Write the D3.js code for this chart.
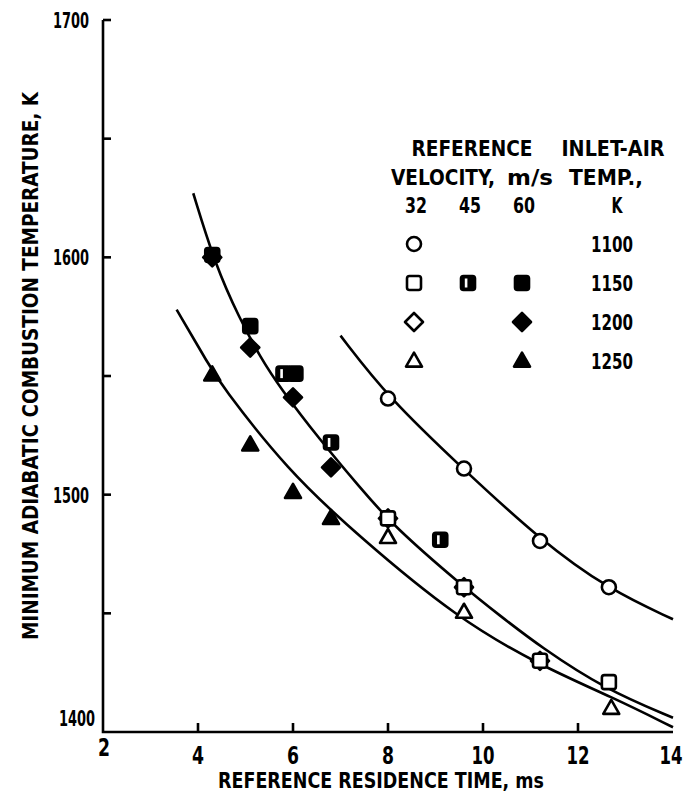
<!DOCTYPE html>
<html>
<head>
<meta charset="utf-8">
<script src="https://cdn.jsdelivr.net/npm/d3@7"></script>
<style>
  html, body { margin: 0; padding: 0; background: #fff; }
  svg { display: block; }
  text { font-family: "DejaVu Sans Condensed", "DejaVu Sans", "Liberation Sans", sans-serif; font-weight: bold; fill: #000; }
</style>
</head>
<body>
<svg id="chart" width="690" height="798"></svg>
<script>
// Axis ranges and ticks
const xDomain = [2, 14];
const yDomain = [1400, 1700];
const xTickLabels = [2, 4, 6, 8, 10, 12, 14];
const yTickLabels = [1400, 1500, 1600, 1700];
const yTicks = [1450, 1500, 1550, 1600, 1650, 1700];
const xTicks = [4, 6, 8, 10, 12];

// Measured points: [residence time ms, temperature K]
const open1100 = [[8.0, 1540.5], [9.6, 1511], [11.2, 1480.5], [12.65, 1461]];          // 32 m/s, 1100 K
const open1150 = [[8.0, 1490], [9.6, 1461], [11.2, 1430], [12.65, 1421]];            // 32 m/s, 1150 K
const half1150 = [[5.8, 1551], [6.8, 1522], [9.1, 1481]];                            // 45 m/s, 1150 K
const solid1150 = [[4.3, 1601], [5.1, 1571], [6.05, 1551]];                          // 60 m/s, 1150 K
const open1200 = [[8.0, 1490], [9.6, 1461], [11.2, 1430]];                           // 32 m/s, 1200 K
const solid1200 = [[4.3, 1600], [5.1, 1562], [6.0, 1541], [6.8, 1511.5]];            // 60 m/s, 1200 K
const open1250 = [[8.0, 1482], [9.6, 1450.5], [12.7, 1410]];                         // 32 m/s, 1250 K
const solid1250 = [[4.3, 1550.5], [5.1, 1521], [6.0, 1501], [6.8, 1490]];            // 60 m/s, 1250 K

// Faired curves
const curve1100 = [[7.0, 1567], [8.0, 1541], [9.6, 1510.5], [11.2, 1481], [12.65, 1460], [14.0, 1447.5]];
const curve1150 = [[3.9, 1627], [4.36, 1597], [4.88, 1574], [5.31, 1558], [5.73, 1545], [6.57, 1523],
                   [7.41, 1503], [8.1, 1487], [9.6, 1461], [10.36, 1449], [11.2, 1436], [12.57, 1418], [14.0, 1406]];
const curve1250 = [[3.55, 1578], [4.25, 1554], [4.46, 1547], [5.87, 1510.5], [7.41, 1482], [9.45, 1448],
                   [11.2, 1428], [12.74, 1414.5], [14.0, 1402]];

// Legend content
const legendVelocities = ["32", "45", "60"];
const legendTemps = ["1100", "1150", "1200", "1250"];

const svg = d3.select("#chart");
const x = d3.scaleLinear().domain(xDomain).range([103, 673]);
const y = d3.scaleLinear().domain(yDomain).range([732, 20]);

const INK = "#000";
const LW = 2.6;

// Axes frame (left and bottom only)
const axisG = svg.append("g").attr("stroke", INK).attr("stroke-width", LW).attr("fill", "none");
axisG.append("path").attr("d", `M${x(2)},${y(1700)}V${y(1400)}H${x(14)}`).attr("stroke-linejoin", "miter");
axisG.selectAll(".yt").data(yTicks).join("line")
  .attr("x1", x(2)).attr("x2", x(2) + 8)
  .attr("y1", d => y(d)).attr("y2", d => y(d));
axisG.selectAll(".xt").data(xTicks).join("line")
  .attr("x1", d => x(d)).attr("x2", d => x(d))
  .attr("y1", y(1400)).attr("y2", y(1400) - 9);

// Tick labels
svg.selectAll(".ylab").data(yTickLabels).join("text")
  .attr("x", d => d === 1400 ? 95 : 89)
  .attr("y", d => d === 1400 ? y(d) - 6 : y(d) + 8)
  .attr("text-anchor", "end")
  .attr("font-size", 21)
  .attr("textLength", 36).attr("lengthAdjust", "spacingAndGlyphs")
  .text(d => d);
svg.selectAll(".xlab").data(xTickLabels).join("text")
  .attr("x", d => d === 2 ? x(d) + 1 : d === 14 ? x(d) - 2 : x(d))
  .attr("y", d => d === 2 ? 756 : 764)
  .attr("text-anchor", "middle")
  .attr("font-size", 24)
  .attr("textLength", d => d >= 10 ? 23 : 12).attr("lengthAdjust", "spacingAndGlyphs")
  .text(d => d);

// Axis titles
svg.append("text")
  .attr("transform", `translate(38,${366}) rotate(-90)`)
  .attr("text-anchor", "middle")
  .attr("font-size", 21)
  .attr("textLength", 548).attr("lengthAdjust", "spacingAndGlyphs")
  .text("MINIMUM ADIABATIC COMBUSTION TEMPERATURE, K");
svg.append("text")
  .attr("x", 381).attr("y", 788)
  .attr("text-anchor", "middle")
  .attr("font-size", 22)
  .attr("textLength", 326).attr("lengthAdjust", "spacingAndGlyphs")
  .text("REFERENCE RESIDENCE TIME, ms");

// Curves
const line = d3.line().x(d => x(d[0])).y(d => y(d[1])).curve(d3.curveBasis);
svg.append("g").attr("fill", "none").attr("stroke", INK).attr("stroke-width", LW)
  .selectAll("path").data([curve1100, curve1150, curve1250]).join("path")
  .attr("d", line);

// Marker drawing helpers
function circleM(g, cx, cy) {
  g.append("circle").attr("cx", cx).attr("cy", cy).attr("r", 7)
    .attr("fill", "#fff").attr("stroke", INK).attr("stroke-width", LW);
}
function squareM(g, cx, cy, style) {
  const s = 14;
  g.append("rect").attr("x", cx - s / 2).attr("y", cy - s / 2).attr("width", s).attr("height", s).attr("rx", 2.5)
    .attr("fill", style === "open" ? "#fff" : INK).attr("stroke", INK).attr("stroke-width", LW);
  if (style === "half") {
    g.append("rect").attr("x", cx - 3.2).attr("y", cy - 4.5).attr("width", 2.6).attr("height", 9).attr("fill", "#fff");
  }
}
function diamondM(g, cx, cy, filled) {
  const r = 9;
  g.append("path").attr("d", `M${cx},${cy - r}L${cx + r},${cy}L${cx},${cy + r}L${cx - r},${cy}Z`)
    .attr("fill", filled ? INK : "#fff").attr("stroke", INK).attr("stroke-width", LW).attr("stroke-linejoin", "round");
}
function triangleM(g, cx, cy, filled) {
  const h = 14, w = 16;
  g.append("path").attr("d", `M${cx},${cy - h * 0.6}L${cx + w / 2},${cy + h * 0.4}L${cx - w / 2},${cy + h * 0.4}Z`)
    .attr("fill", filled ? INK : "#fff").attr("stroke", INK).attr("stroke-width", LW).attr("stroke-linejoin", "round");
}

// Data markers
const mk = svg.append("g");
open1100.forEach(d => circleM(mk, x(d[0]), y(d[1])));
open1200.forEach(d => diamondM(mk, x(d[0]), y(d[1]), false));
open1150.forEach(d => squareM(mk, x(d[0]), y(d[1]), "open"));
open1250.forEach(d => triangleM(mk, x(d[0]), y(d[1]), false));
half1150.forEach(d => squareM(mk, x(d[0]), y(d[1]), "half"));
solid1150.forEach(d => squareM(mk, x(d[0]), y(d[1]), "solid"));
solid1200.forEach(d => diamondM(mk, x(d[0]), y(d[1]), true));
solid1250.forEach(d => triangleM(mk, x(d[0]), y(d[1]), true));

// Legend
const lg = svg.append("g");
const lt = (t, cx, cy, w) => lg.append("text").attr("x", cx).attr("y", cy).attr("text-anchor", "middle")
  .attr("font-size", 22).attr("textLength", w).attr("lengthAdjust", "spacingAndGlyphs").text(t);
lt("REFERENCE", 472, 156, 121);
lt("INLET-AIR", 613, 156, 103);
lt("VELOCITY,", 443, 185, 104);
lt("m/s", 530, 185, 46);
lt("TEMP.,", 606, 185, 74);
const colX = [414, 468, 522];
legendVelocities.forEach((v, i) => lt(v, colX[i] + 2, 213, 22));
lt("K", 617, 213, 11);
const rowY = [244, 283, 322, 361];
legendTemps.forEach((t, i) => lt(t, 612, rowY[i] + 8, 42));
circleM(lg, colX[0], rowY[0]);
squareM(lg, colX[0], rowY[1], "open");
squareM(lg, colX[1], rowY[1], "half");
squareM(lg, colX[2], rowY[1], "solid");
diamondM(lg, colX[0], rowY[2], false);
diamondM(lg, colX[2], rowY[2], true);
triangleM(lg, colX[0], rowY[3], false);
triangleM(lg, colX[2], rowY[3], true);
</script>
</body>
</html>
